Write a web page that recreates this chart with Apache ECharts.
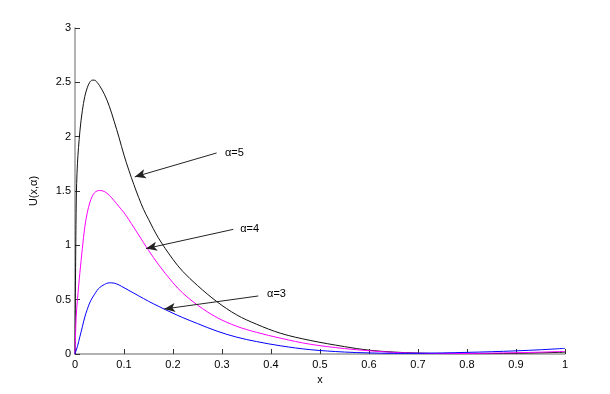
<!DOCTYPE html>
<html><head><meta charset="utf-8">
<script src="https://cdn.jsdelivr.net/npm/echarts@6/dist/echarts.min.js"></script>
<style>html,body{margin:0;padding:0;background:#fff}#c{width:610px;height:394px}</style>
</head><body><div id="c"></div>
<script>
const xs = [0,0.0025,0.005,0.01,0.015,0.02,0.025,0.03,0.035,0.04,0.045,0.05,0.06,0.07,0.08,0.09,0.1,0.11,0.12,0.13,0.14,0.15,0.17,0.2,0.22,0.25,0.29,0.33,0.37,0.42,0.48,0.55,0.6,0.65,0.7,0.75,0.8,0.85,0.9,0.95,1.0];
const u5 = [0,1.39,1.75,2.05,2.24,2.37,2.45,2.5,2.52,2.52,2.5,2.47,2.39,2.28,2.14,1.99,1.83,1.69,1.56,1.44,1.33,1.24,1.07,0.87,0.76,0.63,0.48,0.36,0.275,0.19,0.125,0.068,0.035,0.018,0.008,0.004,0.003,0.004,0.007,0.011,0.016];
const u4 = [0,0.35,0.5,0.75,0.97,1.17,1.3,1.39,1.45,1.485,1.5,1.505,1.495,1.46,1.41,1.355,1.3,1.235,1.165,1.095,1.025,0.955,0.825,0.655,0.56,0.45,0.335,0.255,0.2,0.145,0.09,0.05,0.03,0.015,0.007,0.004,0.005,0.008,0.012,0.017,0.024];
const u3 = [0,0.035,0.07,0.16,0.25,0.34,0.41,0.47,0.515,0.55,0.585,0.61,0.64,0.655,0.652,0.635,0.61,0.585,0.56,0.535,0.51,0.485,0.44,0.375,0.335,0.28,0.21,0.155,0.115,0.075,0.04,0.018,0.01,0.006,0.007,0.01,0.015,0.021,0.029,0.039,0.052];
const seriesNames = ['α=5','α=4','α=3'];
// annotation arrows: text position, line start, arrow tip (data coords)
const notes = [
  {text:'α=5', at:[0.306,1.85], from:[0.289,1.85], to:[0.122,1.63]},
  {text:'α=4', at:[0.337,1.15], from:[0.323,1.147], to:[0.145,0.97]},
  {text:'α=3', at:[0.392,0.55], from:[0.374,0.534], to:[0.182,0.414]}
];
const xTicks = ['0','0.1','0.2','0.3','0.4','0.5','0.6','0.7','0.8','0.9','1'];

const zip = a => xs.map((x,i)=>[x,a[i]]);
const font = 'Liberation Sans, Arial, sans-serif';
const chart = echarts.init(document.getElementById('c'));
chart.setOption({
  animation:false,
  grid:{left:75,right:45,top:28,bottom:40},
  xAxis:{type:'value',min:0,max:1,interval:0.1,name:'x',nameLocation:'middle',nameGap:17,
    nameTextStyle:{color:'#000',fontSize:11,fontFamily:font},
    axisLine:{lineStyle:{color:'#999',width:1.5}},
    axisTick:{inside:true,length:5,lineStyle:{color:'#333'}},
    axisLabel:{color:'#000',fontSize:11,fontFamily:font,margin:5,formatter:(v)=>{const i=Math.round(v*10);return xTicks[i]!==undefined?xTicks[i]:'';}},
    splitLine:{show:false}},
  yAxis:{type:'value',min:0,max:3,interval:0.5,name:'U(x,α)',nameLocation:'middle',nameGap:36,
    nameTextStyle:{color:'#000',fontSize:11,fontFamily:font},
    axisLine:{show:true,lineStyle:{color:'#999',width:1.5}},
    axisTick:{show:true,inside:true,length:5,lineStyle:{color:'#333'}},
    axisLabel:{color:'#000',fontSize:11,fontFamily:font,margin:4},
    splitLine:{show:false}},
  series:[
    {name:seriesNames[0],type:'line',data:zip(u5),smooth:0.35,symbol:'none',lineStyle:{color:'#111',width:1}},
    {name:seriesNames[1],type:'line',data:zip(u4),smooth:0.35,symbol:'none',lineStyle:{color:'#ff00ff',width:1}},
    {name:seriesNames[2],type:'line',data:zip(u3),smooth:0.35,symbol:'none',lineStyle:{color:'#0000ff',width:1}},
    {type:'line',data:[],silent:true,
      markLine:{silent:true,symbol:['none','arrow'],symbolSize:[7,11],
        lineStyle:{color:'#222',width:1,type:'solid'},label:{show:false},
        data:notes.map(n=>[{coord:n.from},{coord:n.to}])}}
  ]
});
const gr = notes.map(n=>{const p=chart.convertToPixel({gridIndex:0},n.at);
  return {type:'text',x:p[0],y:p[1],style:{text:n.text,fill:'#000',font:'11px '+font,textAlign:'left',textVerticalAlign:'middle'}};});
chart.setOption({graphic:gr});
</script></body></html>
